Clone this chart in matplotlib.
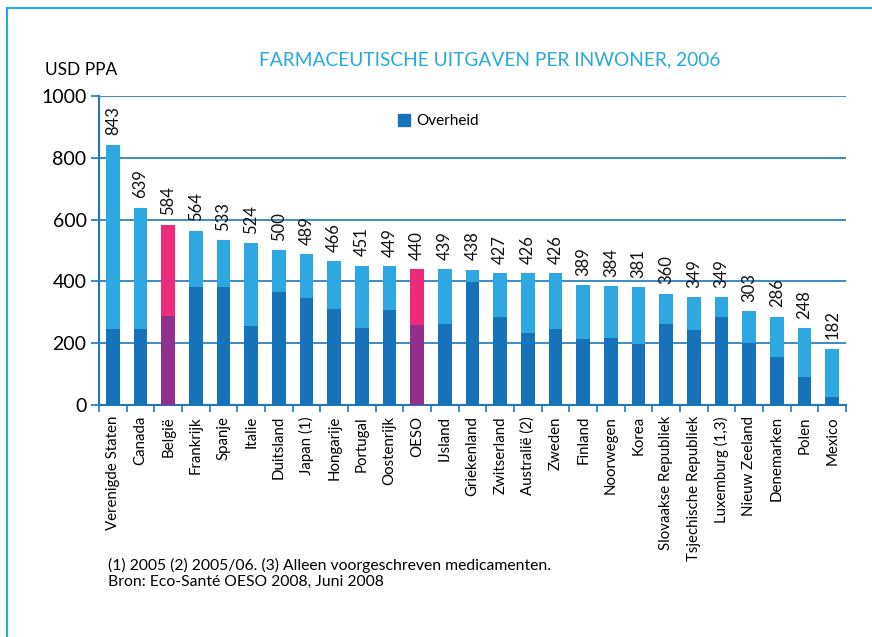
import numpy as np
import matplotlib
matplotlib.use('Agg')
import matplotlib.pyplot as plt
from matplotlib.patches import Patch
from matplotlib.lines import Line2D

plt.rcParams['font.family'] = ['Lato', 'DejaVu Sans']

# data
landen = ['Verenigde Staten', 'Canada', 'België', 'Frankrijk', 'Spanje', 'Italie',
          'Duitsland', 'Japan (1)', 'Hongarije', 'Portugal', 'Oostenrijk', 'OESO',
          'IJsland', 'Griekenland', 'Zwitserland', 'Australië (2)', 'Zweden', 'Finland',
          'Noorwegen', 'Korea', 'Slovaakse Republiek', 'Tsjechische Republiek',
          'Luxemburg (1,3)', 'Nieuw Zeeland', 'Denemarken', 'Polen', 'Mexico']
totaal = [843, 639, 584, 564, 533, 524, 500, 489, 466, 451, 449, 440, 439, 438,
          427, 426, 426, 389, 384, 381, 360, 349, 349, 303, 286, 248, 182]
overheid = [246, 246, 288, 381, 381, 255, 365, 346, 310, 249, 307, 259, 262, 398,
            284, 233, 246, 213, 217, 197, 262, 242, 284, 200, 155, 90, 26]
accent = ['België', 'OESO']

DONKER = '#1673b9'
LICHT = '#2ea8e0'
ROZE = '#ec2c7a'
PAARS = '#922f8c'
LIJN = '#1f78bd'
KADER = '#29a9e0'

fig = plt.figure(figsize=(8.72, 6.37), dpi=100)
ax = fig.add_axes([99/872, 1 - 405/637, (846 - 99)/872, (405 - 96)/637])

x = np.arange(len(landen))
kleur_tot = [ROZE if l in accent else LICHT for l in landen]
kleur_ov = [PAARS if l in accent else DONKER for l in landen]

ax.bar(x, totaal, width=0.5, color=kleur_tot, zorder=2)
ax.bar(x, overheid, width=0.5, color=kleur_ov, zorder=3)

for i, t in enumerate(totaal):
    ax.text(i, t + 30, str(t), rotation=90, ha='center', va='bottom',
            fontsize=12, color='#111111')

ax.set_xlim(-0.5, len(landen) - 0.6)
ax.set_ylim(0, 1000)
ax.set_yticks(range(0, 1001, 200))
ax.tick_params(axis='y', length=6, width=1.2, color=LIJN, labelsize=14, pad=3)
ax.set_xticks(x)
ax.set_xticklabels(landen, rotation=90, fontsize=10.8)
ax.tick_params(axis='x', which='major', length=0, pad=8)
ax.set_xticks(np.arange(-0.5, len(landen)), minor=True)
ax.tick_params(axis='x', which='minor', length=5, width=1.2, color=LIJN)

ax.yaxis.grid(True, color=LIJN, lw=1.2, zorder=0)
ax.set_axisbelow(True)
for s in ['top', 'right']:
    ax.spines[s].set_visible(False)
for s in ['left', 'bottom']:
    ax.spines[s].set_color(LIJN)
    ax.spines[s].set_linewidth(1.5)

ax.legend(handles=[Patch(color=DONKER, label='Overheid')], loc='center left',
          bbox_to_anchor=(0.40, 0.919), frameon=False, fontsize=11,
          handlelength=0.8, handleheight=0.8, borderpad=0, borderaxespad=0,
          handletextpad=0.4)

fig.text(45/872, 1 - 70/637, 'USD PPA', ha='left', va='center', fontsize=12.5)
fig.text(490/872, 1 - 60/637, 'FARMACEUTISCHE UITGAVEN PER INWONER, 2006',
         ha='center', va='center', fontsize=13.8, color=KADER)
fig.text(108/872, 1 - 565/637,
         '(1) 2005 (2) 2005/06. (3) Alleen voorgeschreven medicamenten.',
         ha='left', va='center', fontsize=11.3)
fig.text(108/872, 1 - 582/637, 'Bron: Eco-Santé OESO 2008, Juni 2008',
         ha='left', va='center', fontsize=11.3)

fig.add_artist(Line2D([7/872, 7/872], [0, 1 - 8/637], transform=fig.transFigure,
                      color=KADER, lw=1.5))
fig.add_artist(Line2D([7/872, 1], [1 - 8/637, 1 - 8/637], transform=fig.transFigure,
                      color=KADER, lw=1.5))

fig.savefig('out.png', dpi=100)
